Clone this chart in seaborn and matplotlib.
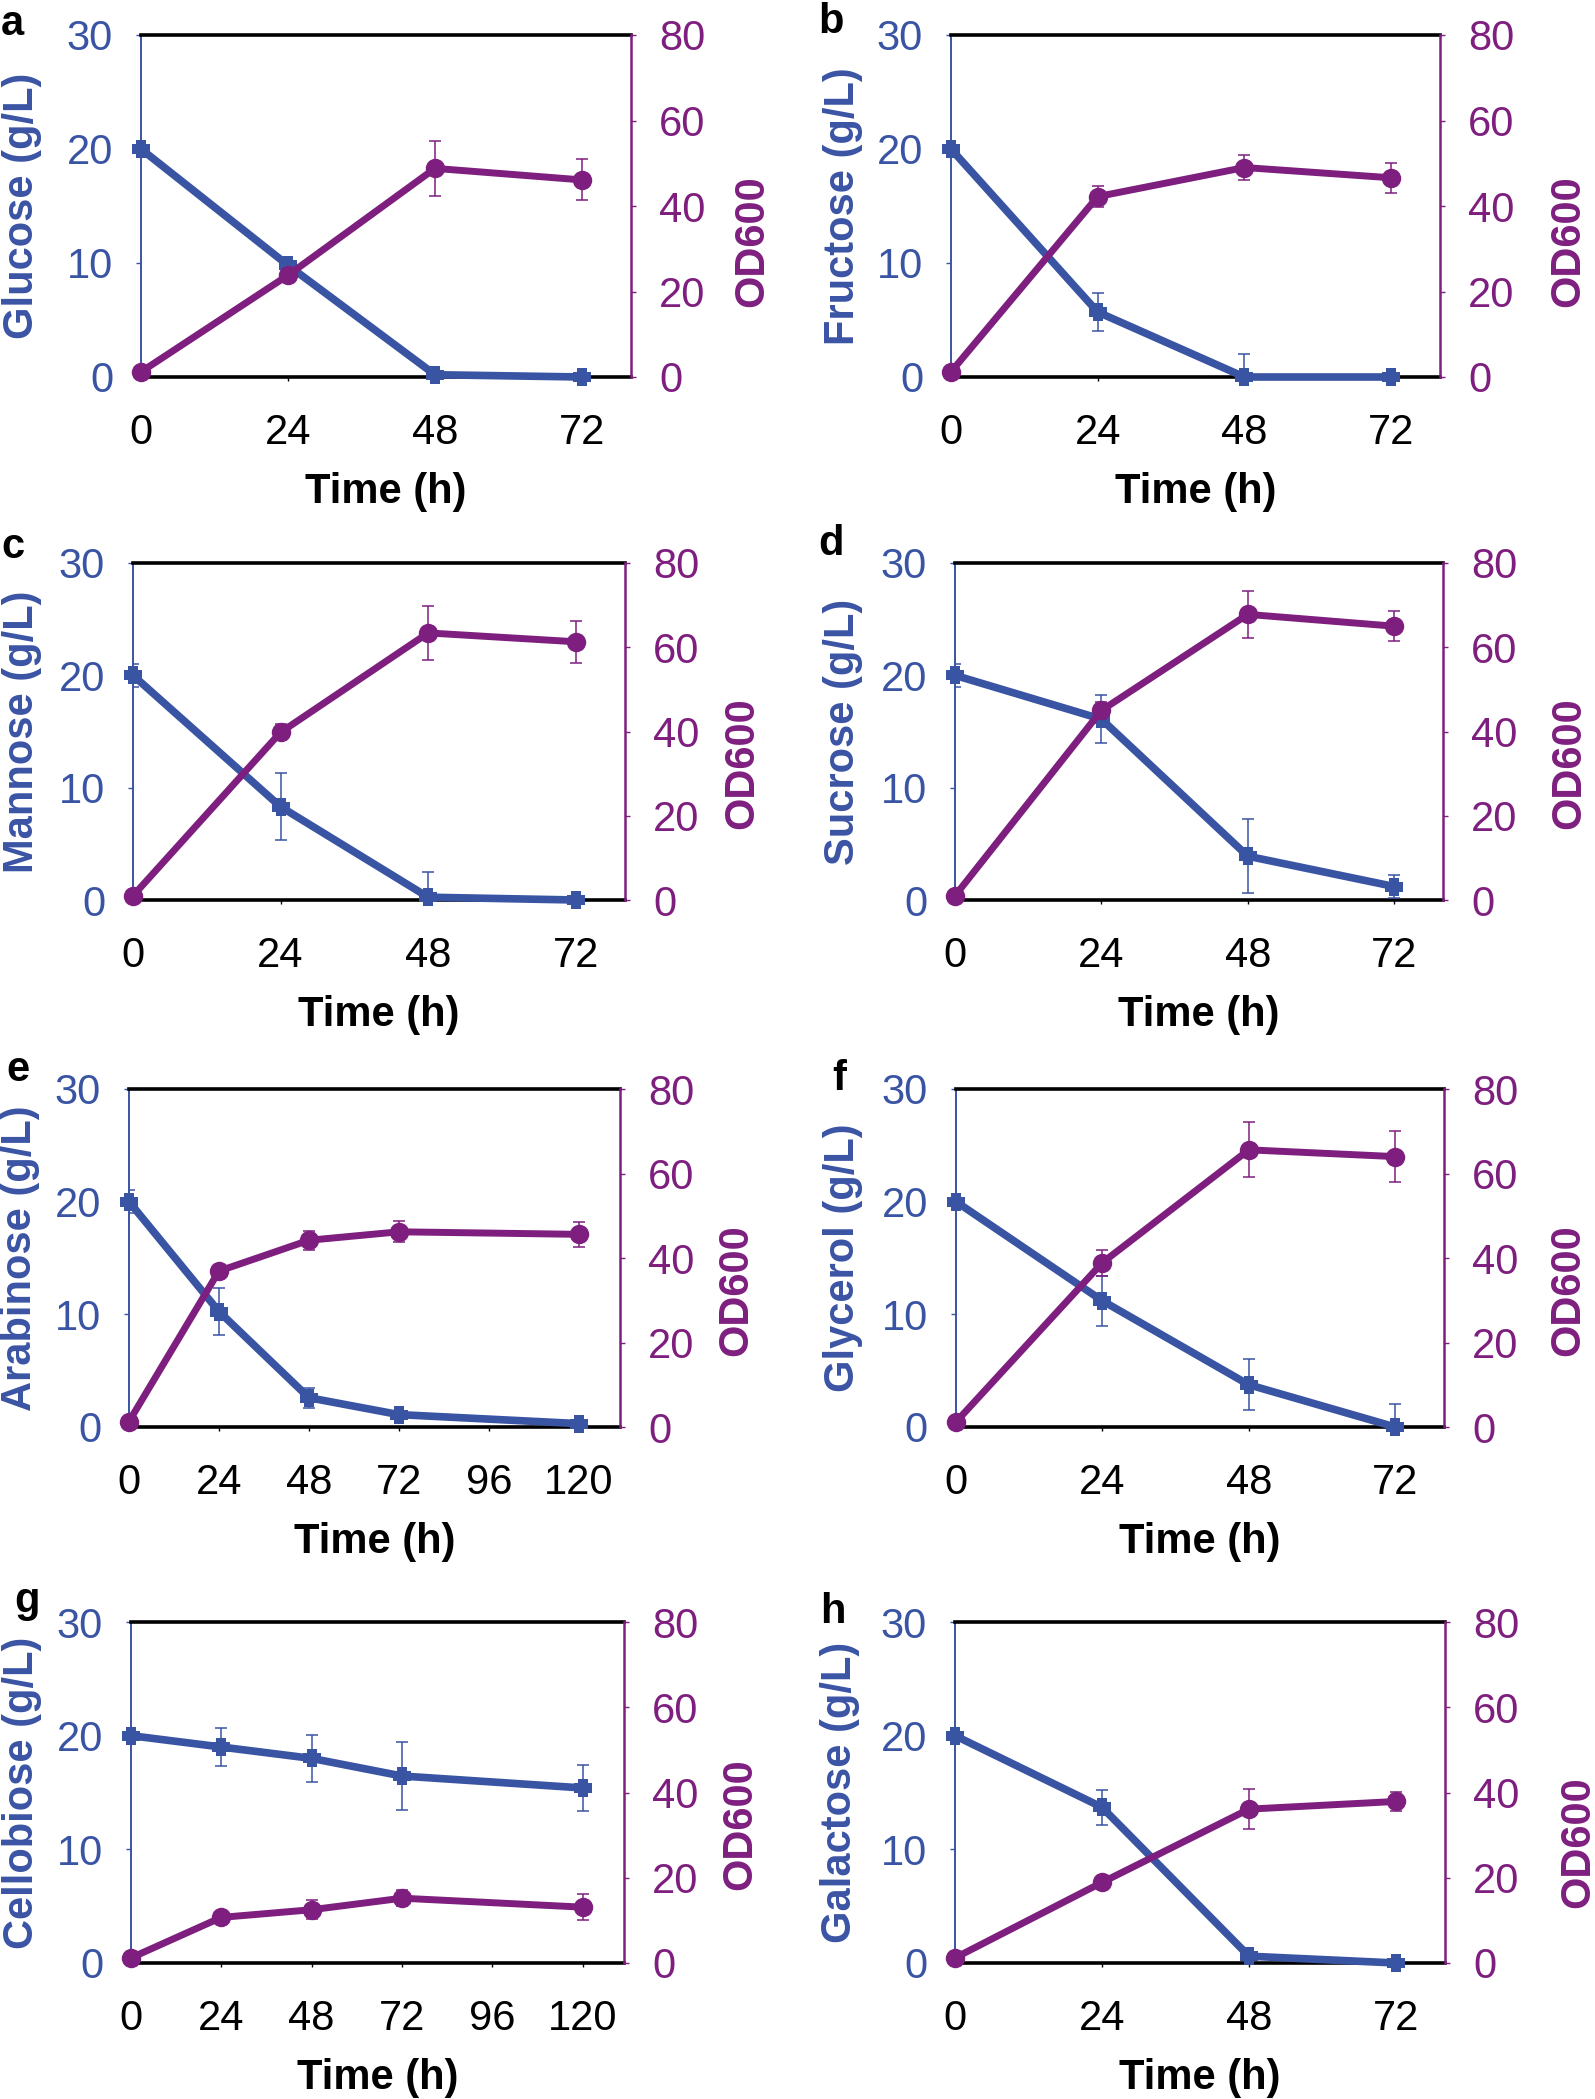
import matplotlib
matplotlib.use("Agg")
import matplotlib.pyplot as plt
import seaborn as sns

# ---- data ----
time_72 = [0, 24, 48, 72]
time_120 = [0, 24, 48, 72, 120]

glucose = [20.0, 9.8, 0.2, 0.0]
glucose_err = [0.3, 0.3, 0.3, 0.2]
glucose_od = [1.2, 23.8, 48.8, 46.1]
glucose_od_err = [0.3, 1.0, 6.4, 4.8]

fructose = [20.0, 5.7, 0.0, 0.0]
fructose_err = [0.3, 1.65, 2.0, 0.2]
fructose_od = [1.2, 42.2, 49.0, 46.6]
fructose_od_err = [0.3, 2.4, 3.0, 3.5]

mannose = [20.0, 8.3, 0.25, 0.0]
mannose_err = [1.0, 3.0, 2.2, 0.2]
mannose_od = [1.0, 39.8, 63.4, 61.3]
mannose_od_err = [0.3, 1.9, 6.4, 5.0]

sucrose = [20.0, 16.1, 3.9, 1.2]
sucrose_err = [1.0, 2.15, 3.3, 1.0]
sucrose_od = [1.0, 45.0, 67.8, 65.0]
sucrose_od_err = [0.3, 2.0, 5.5, 3.6]

arabinose = [20.0, 10.25, 2.6, 1.1, 0.3]
arabinose_err = [1.0, 2.1, 0.9, 0.3, 0.2]
arabinose_od = [1.3, 36.9, 44.2, 46.2, 45.6]
arabinose_od_err = [0.3, 0.8, 2.2, 2.5, 2.9]

glycerol = [20.0, 11.2, 3.75, 0.0]
glycerol_err = [0.3, 2.2, 2.25, 2.0]
glycerol_od = [1.2, 38.9, 65.6, 64.0]
glycerol_od_err = [0.3, 3.1, 6.5, 6.0]

cellobiose = [20.0, 19.0, 18.0, 16.45, 15.4]
cellobiose_err = [0.3, 1.7, 2.1, 3.0, 2.0]
cellobiose_od = [1.2, 10.7, 12.5, 15.2, 13.1]
cellobiose_od_err = [0.3, 0.6, 2.2, 1.9, 3.0]

galactose = [20.0, 13.7, 0.6, 0.0]
galactose_err = [0.3, 1.55, 0.3, 0.2]
galactose_od = [1.2, 18.9, 36.1, 37.9]
galactose_od_err = [0.3, 1.0, 4.7, 2.3]

sugar_ticks = [0, 10, 20, 30]
od_ticks = [0, 20, 40, 60, 80]

BLUE = "#3A54A4"
PURPLE = "#7E1F7F"
W, H = 1595, 2099  # output size in pixels

# chunky plus, like the Excel marker
THICK_PLUS = [(-0.28, 0.5), (0.28, 0.5), (0.28, 0.28), (0.5, 0.28),
              (0.5, -0.28), (0.28, -0.28), (0.28, -0.5), (-0.28, -0.5),
              (-0.28, -0.28), (-0.5, -0.28), (-0.5, 0.28), (-0.28, 0.28)]

sns.set_style("ticks")
plt.rcParams["font.family"] = ["Liberation Sans", "DejaVu Sans"]


def px(v):
    # pixels -> points at dpi 100
    return v * 72 / 100


def draw_panel(fig, box, t, sugar, sugar_err, od, od_err, name, letter,
               letter_xy, ylab_x, od_x, od_y, xmax, xticks):
    l, r, tp, bt = box
    ax = fig.add_axes([l / W, 1 - bt / H, (r - l) / W, (bt - tp) / H])
    ax2 = ax.twinx()

    # sugar (left axis)
    ax.errorbar(t, sugar, yerr=sugar_err, fmt="none", ecolor=BLUE,
                elinewidth=1.1, capsize=4.5, capthick=1.1, zorder=3)
    sns.lineplot(x=t, y=sugar, ax=ax, color=BLUE, linewidth=5.5,
                 marker=THICK_PLUS, markersize=12.5, markeredgewidth=0,
                 clip_on=False, zorder=4)

    # OD600 (right axis)
    ax2.errorbar(t, od, yerr=od_err, fmt="none", ecolor=PURPLE,
                 elinewidth=1.1, capsize=4.5, capthick=1.1, zorder=3)
    sns.lineplot(x=t, y=od, ax=ax2, color=PURPLE, linewidth=5.0,
                 marker="o", markersize=14, markeredgewidth=0,
                 clip_on=False, zorder=4)

    ax.set_xlim(0, xmax)
    ax.set_xticks(xticks)
    ax.set_ylim(0, 30)
    ax.set_yticks(sugar_ticks)
    ax2.set_ylim(0, 80)
    ax2.set_yticks(od_ticks)

    for s in ["top", "bottom"]:
        ax.spines[s].set_color("black")
        ax.spines[s].set_linewidth(2.6)
    ax.spines["left"].set_color(BLUE)
    ax.spines["left"].set_linewidth(1.4)
    ax.spines["right"].set_visible(False)
    for s in ["top", "bottom", "left"]:
        ax2.spines[s].set_visible(False)
    ax2.spines["right"].set_color(PURPLE)
    ax2.spines["right"].set_linewidth(1.8)

    ax.tick_params(axis="x", colors="black", labelsize=30, length=px(4),
                   width=1.0, pad=px(32), direction="out")
    ax.tick_params(axis="y", colors=BLUE, labelsize=30, length=px(5),
                   width=1.0, pad=px(23), direction="out")
    ax2.tick_params(axis="y", colors=PURPLE, labelsize=30, length=px(5),
                    width=1.0, pad=px(23), direction="out")

    ax.set_xlabel("Time (h)", fontsize=30, fontweight="bold", color="black")
    ax.xaxis.set_label_coords(0.5, -95 / (bt - tp))
    ax.set_ylabel(name, fontsize=30, fontweight="bold", color=BLUE,
                  va="center", ha="center")
    ax.yaxis.set_label_coords((ylab_x - l) / (r - l), 0.5)
    ax2.set_ylabel("OD600", fontsize=30, fontweight="bold", color=PURPLE,
                   va="center", ha="center", rotation=90)
    ax2.yaxis.set_label_coords((od_x - l) / (r - l), od_y)

    fig.text(letter_xy[0] / W, 1 - letter_xy[1] / H, letter, fontsize=30,
             fontweight="bold", ha="left", va="baseline", color="black")


fig = plt.figure(figsize=(W / 100, H / 100), dpi=100)

draw_panel(fig, (141, 631, 35, 377), time_72, glucose, glucose_err,
           glucose_od, glucose_od_err, "Glucose (g/L)", "a", (1, 35),
           22, 752, 0.398, 80, time_72)
draw_panel(fig, (951, 1440, 35, 377), time_72, fructose, fructose_err,
           fructose_od, fructose_od_err, "Fructose (g/L)", "b", (818, 33),
           843, 1568, 0.398, 80, time_72)
draw_panel(fig, (133, 625, 563, 900), time_72, mannose, mannose_err,
           mannose_od, mannose_od_err, "Mannose (g/L)", "c", (1, 558),
           22, 742, 0.407, 80, time_72)
draw_panel(fig, (955, 1443, 563, 900), time_72, sucrose, sucrose_err,
           sucrose_od, sucrose_od_err, "Sucrose (g/L)", "d", (818, 555),
           843, 1569, 0.407, 80, time_72)
draw_panel(fig, (129, 620, 1089, 1427), time_120, arabinose, arabinose_err,
           arabinose_od, arabinose_od_err, "Arabinose (g/L)", "e", (6, 1081),
           20, 736, 0.405, 131, [0, 24, 48, 72, 96, 120])
draw_panel(fig, (956, 1444, 1089, 1427), time_72, glycerol, glycerol_err,
           glycerol_od, glycerol_od_err, "Glycerol (g/L)", "f", (832, 1090),
           843, 1568, 0.405, 80, time_72)
draw_panel(fig, (131, 624, 1622, 1963), time_120, cellobiose, cellobiose_err,
           cellobiose_od, cellobiose_od_err, "Cellobiose (g/L)", "g", (14, 1612),
           22, 740, 0.408, 131, [0, 24, 48, 72, 96, 120])
draw_panel(fig, (955, 1445, 1622, 1963), time_72, galactose, galactose_err,
           galactose_od, galactose_od_err, "Galactose (g/L)", "h", (820, 1623),
           840, 1578, 0.355, 80, time_72)

fig.savefig("out.png", dpi=100)
